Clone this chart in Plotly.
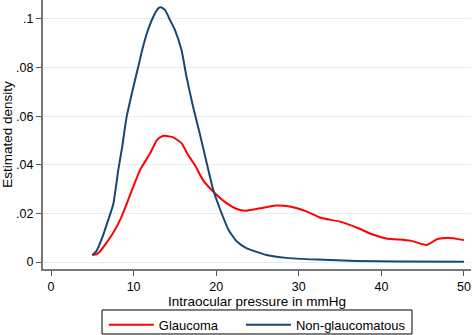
import plotly.graph_objects as go

# Non-glaucomatous density
ng_x = [5.0, 5.5, 6.2, 6.9, 7.55, 8.15, 8.6, 9.16, 9.9, 10.57, 11.1, 11.6, 12.4, 13.0, 13.3, 13.8,
        14.4, 15.0, 15.8, 16.4, 17.2, 18.0, 18.85, 19.65, 20.5, 21.5, 22.5, 23.7, 26.1, 28.5,
        32.2, 37.0, 42.0, 50.0]
ng_y = [0.0029, 0.0045, 0.010, 0.017, 0.024, 0.038, 0.047, 0.0598, 0.071, 0.0804, 0.088, 0.094,
        0.101, 0.1044, 0.1048, 0.1037, 0.0996, 0.0955, 0.0872, 0.0763, 0.0639, 0.053, 0.0407,
        0.0296, 0.0214, 0.0132, 0.0084, 0.0056, 0.0029, 0.0017, 0.0010, 0.0004, 0.0002, 0.0001]

# Glaucoma density
gl_x = [5.0, 5.5, 5.9, 7.5, 8.55, 9.96, 10.8, 11.6, 12.0, 12.8, 13.3, 13.8, 14.8, 15.8, 16.6,
        17.4, 18.4, 19.85, 21.3, 22.5, 23.5, 25.3, 27.3, 28.9, 30.1, 31.0, 32.6, 35.0, 37.2,
        38.8, 40.6, 43.5, 45.5, 46.7, 48.1, 50.0]
gl_y = [0.0029, 0.0032, 0.0042, 0.0118, 0.0187, 0.031, 0.038, 0.0425, 0.0447, 0.050, 0.0515,
        0.0519, 0.0513, 0.0489, 0.044, 0.040, 0.0337, 0.0283, 0.0241, 0.0218, 0.0211, 0.0221,
        0.0232, 0.0228, 0.0218, 0.0207, 0.0182, 0.0166, 0.0139, 0.0115, 0.0097, 0.0088, 0.007,
        0.0093, 0.010, 0.009]

x_ticks = [0, 10, 20, 30, 40, 50]
y_ticks = [0, 0.02, 0.04, 0.06, 0.08, 0.1]
y_tick_text = ["0", ".02", ".04", ".06", ".08", ".1"]

FONT = "Liberation Sans, Arial, sans-serif"

fig = go.Figure()
fig.add_trace(go.Scatter(x=gl_x, y=gl_y, mode="lines", name="Glaucoma", legend="legend",
                         line=dict(color="#ff0000", width=2, shape="spline", smoothing=0.5)))
fig.add_trace(go.Scatter(x=ng_x, y=ng_y, mode="lines", name="Non-glaucomatous", legend="legend2",
                         line=dict(color="#1a476f", width=2, shape="spline", smoothing=0.5)))

leg_common = dict(orientation="h", y=-0.152, xanchor="left", yanchor="top",
                  borderwidth=0, font=dict(size=13), bgcolor="rgba(0,0,0,0)", itemwidth=45)

fig.update_layout(
    width=473, height=335,
    margin=dict(l=43, r=2, t=0, b=66, autoexpand=False),
    paper_bgcolor="white", plot_bgcolor="white",
    font=dict(family=FONT, size=12, color="black"),
    hovermode=False,
    showlegend=True,
    legend=dict(x=0.142, **leg_common),
    legend2=dict(x=0.4625, **leg_common),
    shapes=[dict(type="rect", xref="paper", yref="paper",
                 x0=0.1379, x1=0.8621, y0=-0.2416, y1=-0.1524,
                 line=dict(color="black", width=1), fillcolor="rgba(0,0,0,0)",
                 layer="below")],
)
fig.update_xaxes(
    range=[-0.97, 50.85], tickvals=x_ticks, ticks="outside", ticklen=5, tickcolor="#555",
    showline=True, linecolor="#777", linewidth=2, showgrid=False, zeroline=False,
    automargin=False,
    title=dict(text="Intraocular pressure in mmHg", standoff=0, font=dict(size=13.5)),
    tickfont=dict(size=12.5),
)
fig.update_yaxes(
    range=[-0.00288, 0.1078], tickvals=y_ticks, ticktext=y_tick_text, ticks="outside",
    ticklen=5, tickcolor="#555",
    showline=True, linecolor="#777", linewidth=2, showgrid=True, gridcolor="#e4eef1",
    gridwidth=1, zeroline=False, automargin=False,
    title=dict(text="Estimated density", standoff=2, font=dict(size=13.5)),
    tickfont=dict(size=12.5),
)

fig.write_html("out.html", config={"displayModeBar": False},
               post_script="document.body.style.margin='0';")
